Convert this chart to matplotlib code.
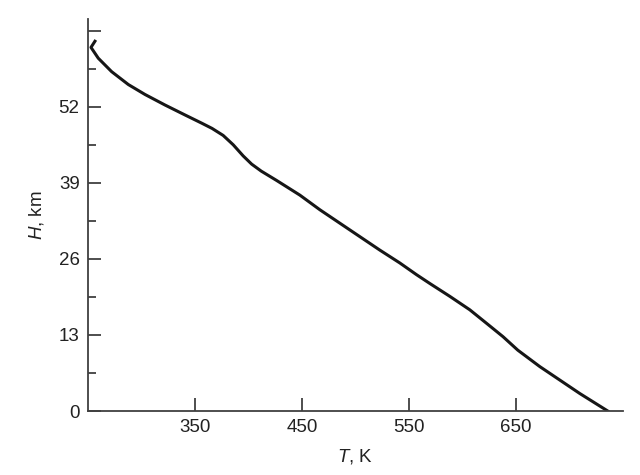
import matplotlib
matplotlib.use("Agg")
import matplotlib.pyplot as plt
from matplotlib.ticker import MultipleLocator

plt.rcParams['font.family'] = ['Liberation Sans', 'DejaVu Sans']
plt.rcParams['mathtext.fontset'] = 'custom'
plt.rcParams['mathtext.rm'] = 'Liberation Sans'
plt.rcParams['mathtext.it'] = 'Liberation Sans:italic'

# temperature (K) vs height (km)
temp = [256.5, 252.8, 259.6, 272.1, 287.7, 303.3, 322.0, 340.7, 356.3, 366.0,
        376.4, 385.8, 395.1, 403.0, 412.0, 426.4, 448.1, 466.8, 485.5, 504.2,
        522.9, 541.6, 557.2, 569.6, 588.3, 607.0, 622.6, 638.1, 651.9, 672.4,
        691.1, 709.8, 736.0]
height = [63.2, 62.15, 60.3, 58.0, 55.8, 54.1, 52.3, 50.6, 49.2, 48.3,
          47.1, 45.5, 43.6, 42.2, 41.0, 39.4, 36.9, 34.4, 32.1, 29.8,
          27.5, 25.3, 23.3, 21.8, 19.6, 17.3, 15.0, 12.7, 10.4, 7.6,
          5.3, 3.0, 0.0]

x_ticks = [350, 450, 550, 650]
y_ticks = [0, 13, 26, 39, 52]

fig = plt.figure(figsize=(6.4, 4.75), dpi=100)
ax = fig.add_axes([0.1375, 0.1347, 0.8355, 0.8253])

ax.plot(temp, height, color='#161616', lw=2.2, solid_joinstyle='round')

ax.set_xlim(250, 750)
ax.set_ylim(0, 67)

for s in ['top', 'right']:
    ax.spines[s].set_visible(False)
for s in ['left', 'bottom']:
    ax.spines[s].set_color('#404040')
    ax.spines[s].set_linewidth(1.3)

ax.set_xticks(x_ticks)
ax.yaxis.set_minor_locator(MultipleLocator(6.5))
ax.set_yticks(y_ticks + [65])
ax.set_yticklabels([str(v) for v in y_ticks] + [''])

ax.tick_params(axis='both', which='major', direction='in', length=9.5,
               width=1.3, color='#404040', labelsize=13.5, pad=6,
               labelcolor='#222222')
ax.tick_params(axis='y', which='minor', direction='in', length=6,
               width=1.3, color='#404040')
ax.tick_params(axis='x', which='minor', bottom=False)

ax.set_xlabel(r'$T$, K', fontsize=13.5, labelpad=8, color='#222222')
ax.set_ylabel(r'$H$, km', fontsize=13.5, labelpad=9, color='#222222')

fig.savefig('out.png', dpi=100)
